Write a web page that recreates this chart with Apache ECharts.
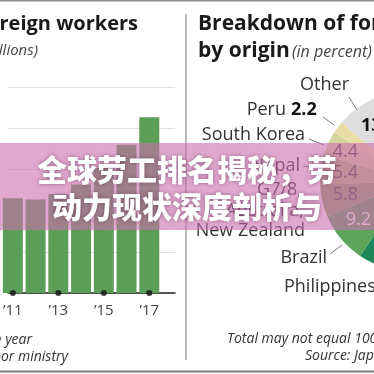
<!DOCTYPE html>
<html>
<head>
<meta charset="utf-8">
<script src="https://cdn.jsdelivr.net/npm/echarts@6/dist/echarts.min.js"></script>
<style>
  html, body { margin: 0; padding: 0; background: #ffffff; }
  #chart { width: 374px; height: 374px; }
</style>
</head>
<body>
<div id="chart"></div>
<script>
// Foreign workers in Japan (millions, October of each year)
const years = [2008, 2009, 2010, 2011, 2012, 2013, 2014, 2015, 2016, 2017];
const workers = [0.49, 0.56, 0.65, 0.69, 0.68, 0.72, 0.79, 0.91, 1.08, 1.28];
const labelYears = [2011, 2013, 2015, 2017];

// Breakdown by origin (percent), clockwise from the top
const origins = ['China', 'Vietnam', 'Philippines', 'Brazil', 'G7/8, Australia, New Zealand',
                 'Nepal', 'South Korea', 'Peru', 'Other'];
const shares = [29.1, 18.8, 11.5, 9.2, 5.8, 5.4, 4.4, 2.2, 13.7];

// Banner headline
const bannerLines = ['全球劳工排名揭秘，劳', '动力现状深度剖析与'];

const originColors = ['#2b5d7c', '#15716b', '#1e875a', '#5ca55a', '#8aa866',
                      '#b0bd7c', '#d6d49e', '#e8dda6', '#dddddd'];

const FONT = '"Open Sans", "DejaVu Sans", sans-serif';
const share = name => shares[origins.indexOf(name)].toFixed(1);

const chart = echarts.init(document.getElementById('chart'), null, { renderer: 'canvas' });

function txt(text, x, y, font, fill, align, z) {
  return {
    type: 'text', x: x, y: y, z: z || 50, silent: true,
    style: { text: text, font: font, fill: fill, textAlign: align || 'left', textVerticalAlign: 'middle' }
  };
}
function seg(x1, y1, x2, y2, color, width, z) {
  return {
    type: 'line', z: z || 50, silent: true,
    shape: { x1: x1, y1: y1, x2: x2, y2: y2 },
    style: { stroke: color, lineWidth: width }
  };
}

const graphics = [
  // frame lines
  seg(0, 0.75, 374, 0.75, '#8a8a8a', 1.5, 60),
  seg(0, 371.5, 374, 371.5, '#7a7a7a', 2, 60),
  seg(186, 14, 186, 360, '#a3a3a3', 1.5, 60),

  // left panel titles and notes
  txt('Foreign workers', 138, 24, 'bold 20px ' + FONT, '#1a1a1a', 'right'),
  txt('(in millions)', 38, 51, 'italic 15px ' + FONT, '#444444', 'right'),
  txt('*As of October each year', 32, 340, 'italic 14px ' + FONT, '#333333', 'right'),
  txt('Source: Labor ministry', 68, 357, 'italic 14px ' + FONT, '#333333', 'right'),

  // right panel titles and notes
  txt('Breakdown of foreign workers', 198, 24, 'bold 21px ' + FONT, '#1a1a1a', 'left'),
  txt('by origin', 198, 51, 'bold 21px ' + FONT, '#1a1a1a', 'left'),
  txt('(in percent)', 292, 52, 'italic 16px ' + FONT, '#444444', 'left'),
  txt('Total may not equal 100 due to rounding', 227, 339, 'italic 14px ' + FONT, '#333333', 'left'),
  txt('Source: Japanese labor ministry', 305, 356, 'italic 14px ' + FONT, '#333333', 'left'),

  // pie labels
  txt('Other', 349, 85, '18px ' + FONT, '#333333', 'right'),
  seg(349, 97, 357, 110, '#777777', 1),
  txt('Peru', 286, 110, '18px ' + FONT, '#333333', 'right'),
  txt(share('Peru'), 291, 110, 'bold 18px ' + FONT, '#111111', 'left'),
  seg(323, 117, 334, 125, '#777777', 1),
  txt('South Korea', 305, 135, '18px ' + FONT, '#333333', 'right'),
  seg(309, 139, 324, 145, '#777777', 1),
  txt('Nepal', 300, 166, '18px ' + FONT, '#333333', 'right'),
  seg(303, 166, 318, 167, '#777777', 1),
  txt('G7/8,', 302, 190, '18px ' + FONT, '#333333', 'right'),
  txt('Australia,', 304, 211, '18px ' + FONT, '#333333', 'right'),
  txt('New Zealand', 305, 231, '18px ' + FONT, '#333333', 'right'),
  txt('Brazil', 327, 258, '18px ' + FONT, '#333333', 'right'),
  seg(330, 254, 342, 245, '#777777', 1),
  txt('Philippines', 284, 287, '18px ' + FONT, '#333333', 'left'),

  // values inside the pie
  txt(share('Other'), 361, 126, 'bold 18px ' + FONT, '#111111', 'left'),
  txt(share('South Korea'), 358, 152, '18px ' + FONT, '#4a4a4a', 'right'),
  txt(share('Nepal'), 358, 173, '18px ' + FONT, '#4a4a4a', 'right'),
  txt(share('G7/8, Australia, New Zealand'), 358, 195, '18px ' + FONT, '#4a4a4a', 'right'),
  txt(share('Brazil'), 371, 220, '18px ' + FONT, '#ffffff', 'right'),

  // translucent headline banner
  {
    type: 'rect', z: 100, silent: true,
    shape: { x: 0, y: 143, width: 374, height: 87 },
    style: { fill: 'rgba(205, 110, 175, 0.6)' }
  }
];
bannerLines.forEach(function (line, i) {
  graphics.push({
    type: 'text', x: 187, y: 170 + i * 37, z: 101, silent: true,
    style: {
      text: line, font: '900 30px "Noto Sans CJK SC", sans-serif', fill: '#ffffff',
      textAlign: 'center', textVerticalAlign: 'middle',
      textShadowColor: 'rgba(60, 20, 50, 0.45)', textShadowBlur: 4
    }
  });
});

chart.setOption({
  animation: false,
  backgroundColor: '#ffffff',
  grid: { left: 0, top: 87, width: 175, height: 206, containLabel: false },
  xAxis: {
    type: 'value', min: 2010.79, max: 2018.13,
    axisLine: { show: true, lineStyle: { color: '#222222', width: 1.5 } },
    axisTick: { show: false },
    splitLine: { show: false },
    axisLabel: {
      customValues: labelYears,
      margin: 10, fontSize: 15, color: '#444444', fontFamily: FONT,
      formatter: function (v) { return '\u2019' + String(Math.round(v)).slice(2); }
    }
  },
  yAxis: {
    type: 'value', min: 0, max: 1.5, interval: 0.3,
    axisLine: { show: false }, axisTick: { show: false }, axisLabel: { show: false },
    splitLine: { lineStyle: { color: '#dedede', width: 1 } }
  },
  series: [
    {
      type: 'bar', barWidth: 20, silent: true, clip: true,
      data: years.map(function (y, i) { return [y, workers[i]]; }),
      itemStyle: { color: '#5b9e57' }
    },
    {
      type: 'scatter', clip: false, silent: true, z: 5,
      symbolSize: 6,
      data: labelYears.map(function (y) { return [y, 0]; }),
      itemStyle: { color: '#111111' }
    },
    {
      type: 'pie', center: [410, 181], radius: 90, startAngle: 90, clockwise: true,
      silent: true, label: { show: false }, labelLine: { show: false },
      itemStyle: { borderWidth: 0 },
      data: origins.map(function (name, i) {
        return { name: name, value: shares[i], itemStyle: { color: originColors[i] } };
      })
    }
  ],
  graphic: { elements: graphics }
});
</script>
</body>
</html>
